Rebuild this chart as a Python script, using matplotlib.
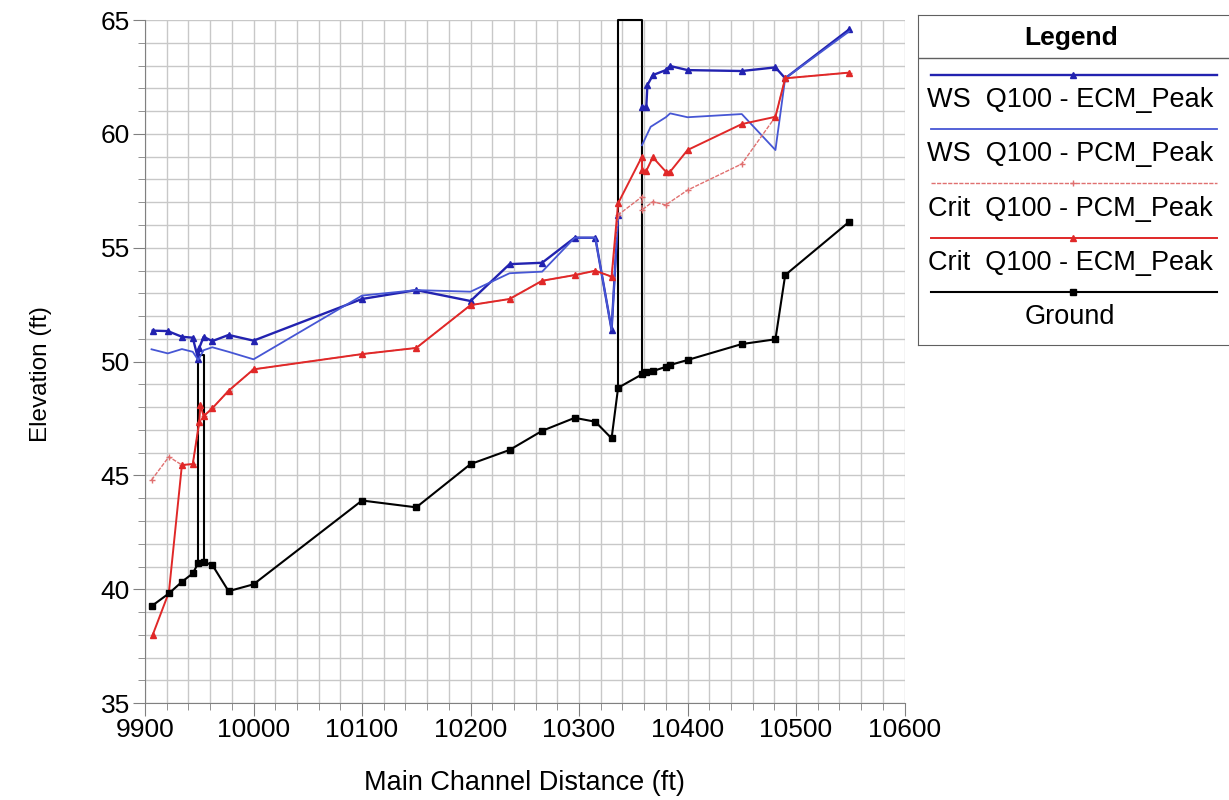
import numpy as np
import matplotlib.pyplot as plt
from matplotlib.ticker import MultipleLocator

plt.rcParams['font.family'] = ['Liberation Sans', 'DejaVu Sans']

# river stations / elevations
ground_x = [9906, 9922, 9934, 9944, 9949, 9954, 9962, 9977, 10000, 10100, 10150,
            10200, 10236, 10266, 10296, 10315, 10330, 10336, 10358, 10362, 10368,
            10380, 10384, 10400, 10450, 10481, 10490, 10549]
ground_y = [39.26, 39.82, 40.33, 40.70, 41.15, 41.2, 41.07, 39.92, 40.22, 43.9, 43.6,
            45.5, 46.12, 46.96, 47.53, 47.36, 46.63, 48.85, 49.44, 49.53, 49.58,
            49.77, 49.85, 50.07, 50.77, 50.98, 53.8, 56.14]

ws_ecm_x = [9907, 9921, 9934, 9944, 9949, 9950, 9954, 9962, 9977, 10000, 10100, 10150,
            10200, 10236, 10266, 10296, 10315, 10330, 10336, 10347, 10358, 10362,
            10363, 10368, 10380, 10384, 10400, 10450, 10481, 10490, 10549]
ws_ecm_y = [51.36, 51.34, 51.09, 51.05, 50.1, 50.6, 51.09, 50.9, 51.17, 50.92, 52.75, 53.14,
            52.66, 54.28, 54.34, 55.44, 55.44, 51.4, 56.44, np.nan, 61.19, 61.19,
            62.14, 62.58, 62.8, 62.98, 62.8, 62.76, 62.92, 62.44, 64.59]

ws_pcm_x = [9906, 9921, 9934, 9944, 9949, 9954, 9962, 9977, 10000, 10100, 10150,
            10200, 10236, 10266, 10296, 10315, 10330, 10336, 10347, 10358, 10366,
            10380, 10384, 10400, 10450, 10481, 10490, 10549]
ws_pcm_y = [50.54, 50.36, 50.55, 50.43, 50.07, 50.5, 50.63, 50.43, 50.1, 52.9, 53.14,
            53.07, 53.88, 53.95, 55.44, 55.44, 51.4, 56.4, np.nan, 59.5, 60.31,
            60.73, 60.9, 60.73, 60.87, 59.29, 62.44, 64.5]

crit_pcm_x = [9906, 9922, 9934, 9944, 9950, 9954, 9962, 9977, 10000, 10100, 10150,
              10200, 10236, 10266, 10296, 10315, 10330, 10336, 10358, 10358, 10368,
              10380, 10400, 10450, 10481, 10490, 10549]
crit_pcm_y = [44.8, 45.82, 45.46, 45.5, 47.3, 47.6, 47.95, 48.72, 49.66, 50.33, 50.6,
              52.48, 52.75, 53.55, 53.8, 53.99, 53.73, 56.44, 57.24, 56.66, 57.02,
              56.88, 57.53, 58.68, 60.75, 62.44, 62.69]

crit_ecm_x = [9907, 9922, 9934, 9944, 9950, 9951, 9954, 9962, 9977, 10000, 10100, 10150,
              10200, 10236, 10266, 10296, 10315, 10330, 10336, 10358, 10358, 10362,
              10368, 10380, 10384, 10400, 10450, 10481, 10490, 10549]
crit_ecm_y = [37.99, 39.87, 45.46, 45.5, 47.36, 48.1, 47.6, 47.95, 48.72, 49.66, 50.33, 50.6,
              52.48, 52.75, 53.55, 53.8, 53.99, 53.73, 56.95, 59.0, 58.41, 58.38,
              58.97, 58.34, 58.34, 59.29, 60.43, 60.75, 62.44, 62.69]

# bridge outlines (deck / abutment lines)
bridge1_x = [9949, 9949, 9954, 9954]
bridge1_y = [41.15, 50.3, 50.3, 41.2]
bridge2_x = [10336, 10336, 10358, 10358]
bridge2_y = [48.85, 65.0, 65.0, 49.44]

series = [
    ('WS  Q100 - ECM_Peak', ws_ecm_x, ws_ecm_y,
     dict(color='#2222b0', lw=1.7, marker='^', ms=5, ls='-')),
    ('WS  Q100 - PCM_Peak', ws_pcm_x, ws_pcm_y,
     dict(color='#4656d4', lw=1.3, marker=None, ls='-')),
    ('Crit  Q100 - PCM_Peak', crit_pcm_x, crit_pcm_y,
     dict(color='#e07070', lw=1.0, marker='+', ms=4, ls=(0, (3, 1)))),
    ('Crit  Q100 - ECM_Peak', crit_ecm_x, crit_ecm_y,
     dict(color='#e02828', lw=1.4, marker='^', ms=5, ls='-')),
    ('Ground', ground_x, ground_y,
     dict(color='black', lw=1.5, marker='s', ms=5, ls='-')),
]

fig = plt.figure(figsize=(12.29, 8), dpi=100)
ax = fig.add_axes([0.118, 0.121, 0.618, 0.854])

ax.plot(bridge1_x, bridge1_y, color='black', lw=1.5, zorder=3)
ax.plot(bridge2_x, bridge2_y, color='black', lw=1.5, zorder=3, clip_on=False)

for name, xs, ys, st in series:
    ax.plot(xs, ys, color=st['color'], lw=st['lw'], ls=st['ls'], marker=st['marker'],
            ms=st.get('ms', 0), mec=st['color'], mfc=st['color'], zorder=4)

ax.set_xlim(9900, 10600)
ax.set_ylim(35, 65)
ax.xaxis.set_major_locator(MultipleLocator(100))
ax.xaxis.set_minor_locator(MultipleLocator(20))
ax.yaxis.set_major_locator(MultipleLocator(5))
ax.yaxis.set_minor_locator(MultipleLocator(1))
ax.grid(which='both', color='#c8c8c8', lw=1.0)
ax.set_axisbelow(True)
for s in ['top', 'right']:
    ax.spines[s].set_visible(False)
for s in ['left', 'bottom']:
    ax.spines[s].set_color('#808080')
ax.tick_params(which='major', length=9, color='#808080', labelsize=19, pad=2)
ax.tick_params(which='minor', length=5, color='#808080')
ax.set_xlabel('Main Channel Distance (ft)', fontsize=19.5, labelpad=20)
ax.set_ylabel('Elevation (ft)', fontsize=17.5)
ax.yaxis.set_label_coords(-0.123, 0.482)

# HEC-RAS style legend box
lg = fig.add_axes([0.747, 0.569, 0.27, 0.412])
lg.set_xlim(0, 1)
lg.set_ylim(0, 1)
lg.set_xticks([])
lg.set_yticks([])
for s in lg.spines.values():
    s.set_color('#606060')
lg.text(0.46, 0.93, 'Legend', ha='center', va='center', fontsize=19, fontweight='bold')
lg.axhline(0.87, color='#606060', lw=1)
for i, (name, xs, ys, st) in enumerate(series):
    yl = 0.82 - i * 0.165
    lg.plot([0.04, 0.90], [yl, yl], color=st['color'], lw=st['lw'], ls=st['ls'])
    if st['marker']:
        lg.plot([0.467], [yl], color=st['color'], marker=st['marker'], ms=4, ls='none')
    lg.text(0.458, yl - 0.077, name, ha='center', va='center', fontsize=19.5)

fig.savefig('out.png', dpi=100)
